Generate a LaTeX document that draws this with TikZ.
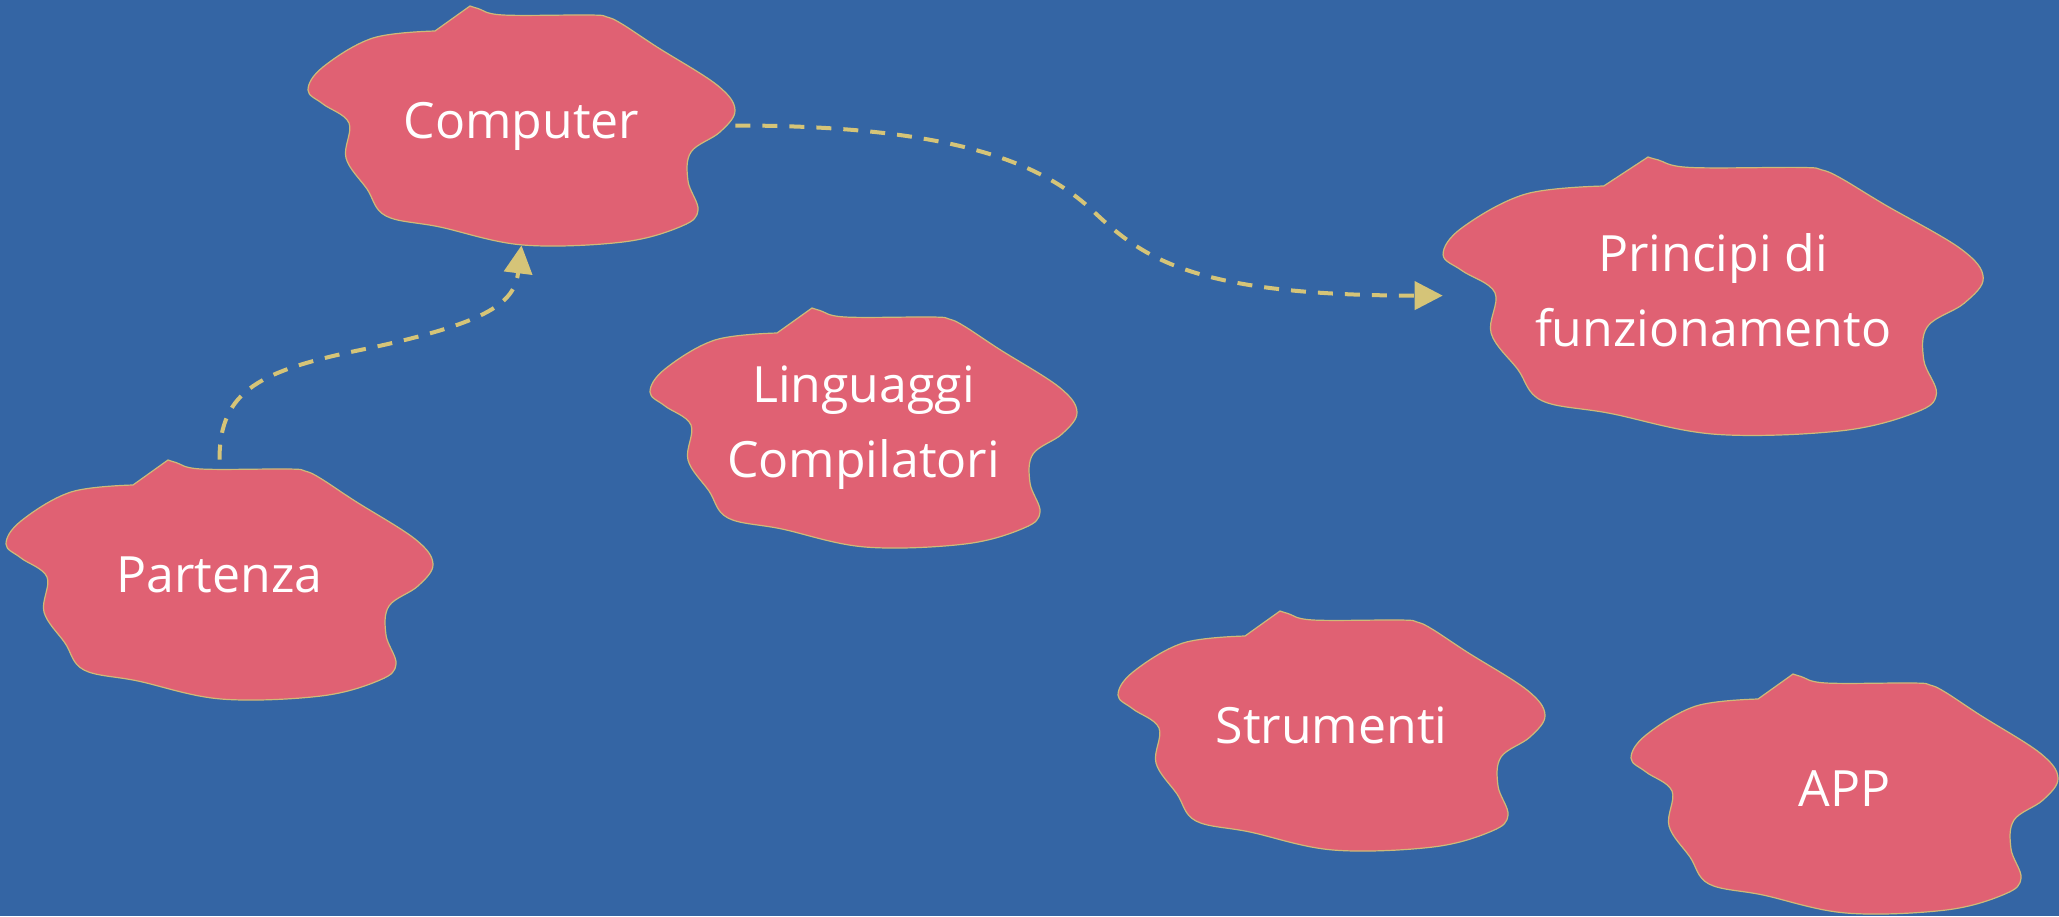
\documentclass[tikz,border=0pt]{standalone}
\usepackage{fontspec}
\setmainfont{Open Sans}
\usetikzlibrary{arrows.meta}
\definecolor{bgblue}{RGB}{52,101,164}
\definecolor{blobfill}{RGB}{224,97,115}
\definecolor{blobline}{RGB}{206,186,120}
\definecolor{connc}{RGB}{213,196,120}
\tikzset{
  blobshape/.style={fill=blobfill, draw=blobline, line width=0.6pt},
  blob/.pic={
    \path[blobshape] plot[smooth, tension=0.6] coordinates {
      (0,0) (8,2.5) (33,9) (120,9) (137,11) (152,18) (187,41) (247,79)
      (265,104) (250,126)
      (221,146) (218,175) (228,204) (212,220) (153,236) (53,239) (-30,221)
      (-84,210) (-103,183) (-124,152) (-121,117) (-147,98) (-162,84)
      (-147,61) (-97,32) (-35,25)} -- cycle;
  },
  blobtext/.style={text=white, inner sep=0pt, align=center,
    font=\fontsize{25pt}{37.5pt}\selectfont,
    minimum width=213.5pt, minimum height=119.5pt},
  conn/.style={draw=connc, line width=2pt, dash pattern=on 7.5pt off 6pt,
    -{Triangle[length=14pt,width=14pt]}},
}
\newcommand\vp{\vphantom{lp}}
\begin{document}
\begin{tikzpicture}[x=0.5pt,y=-0.5pt]
\useasboundingbox[fill=bgblue] (0,0) rectangle (2059,916);

\pic at (470,6) {blob};
\pic at (168,460) {blob};
\pic at (812,308) {blob};
\pic[xscale=1.265,yscale=1.16] at (1648,157) {blob};
\pic at (1280,611) {blob};
\pic at (1793,674) {blob};

\node[blobtext] (computer) at (521.5,125.5) {\vp Computer};
\node[blobtext] (partenza) at (219.5,579.5) {\vp Partenza};
\node[blobtext] (linguaggi) at (863.5,427.5) {\vp Linguaggi\\\vp Compilatori};
\node[blobtext, minimum width=270pt, minimum height=138.6pt] (principi) at (1713.1,295.6) {\vp Principi di\\\vp funzionamento};
\node[blobtext] (strumenti) at (1331.5,730.5) {\vp Strumenti};
\node[blobtext] (app) at (1844.5,793.5) {\vp APP};

\coordinate (m1) at (1093,211);
\coordinate (m2) at (370,348);

\draw[conn] (computer.east) .. controls +(220,0) and +(-50,-47) .. (m1)
  .. controls +(50,47) and +(-250,0) .. (principi.west);
\draw[conn] (partenza.north) .. controls +(0,-70) and +(-110,22) .. (m2)
  .. controls +(120,-26) and +(-7,57) .. (computer.south);
\end{tikzpicture}
\end{document}
